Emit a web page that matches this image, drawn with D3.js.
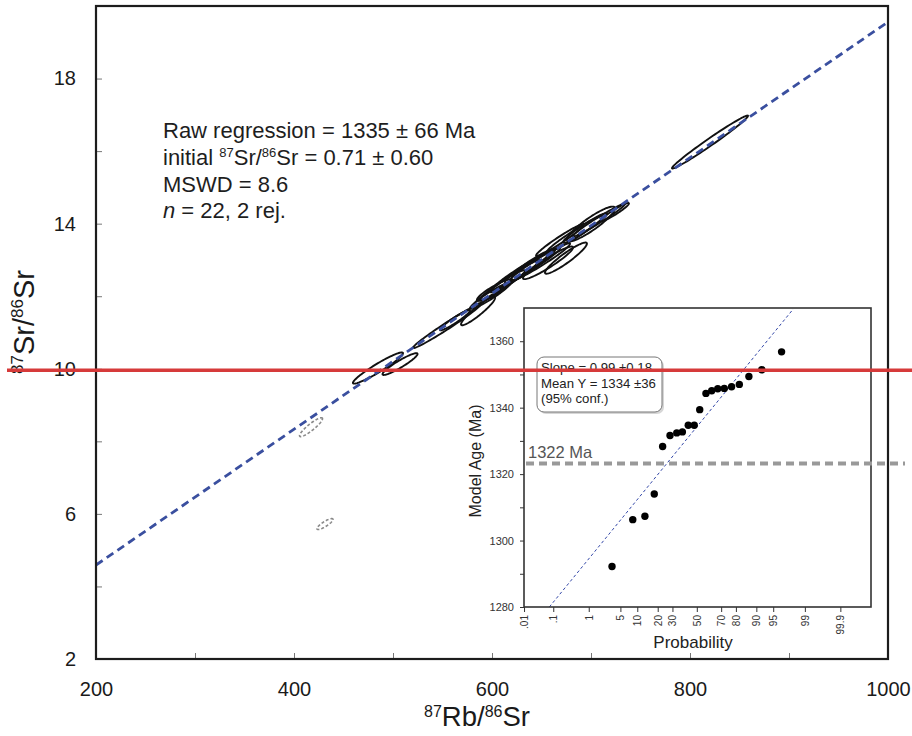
<!DOCTYPE html>
<html><head><meta charset="utf-8">
<script src="https://cdn.jsdelivr.net/npm/d3@7"></script>
<style>
body{margin:0;background:#fff}
svg{display:block}
text{font-family:"Liberation Sans",Arial,Helvetica,sans-serif}
</style>
</head><body>
<svg id="c" width="912" height="736"></svg>
<script>
// ---------- data ----------
const xTicks = [200,300,400,500,600,700,800,900,1000];
const xTickLabels = ["200","","400","","600","","800","","1000"];
const yTicks = [2,4,6,8,10,12,14,16,18];
const yTickLabels = ["2","","6","","10","","14","","18"];

// accepted analyses (87Rb/86Sr, 87Sr/86Sr, errors, error correlation)
const ellX   = [484.8,507.1,554.5,585.9,562.6,598.0,603.0,608.1,618.2,628.3,633.3,638.4,648.5,656.6,674.7,668.7,683.8,693.9,700.0,708.1,724.2,820.2];
const ellY   = [10.02,10.13,11.18,11.59,11.34,12.01,12.17,12.25,12.45,12.67,12.72,12.83,12.94,12.92,13.05,13.55,13.71,13.88,13.99,14.10,14.32,16.25];
const ellSX  = [25.3,17.7,34.3,17.2,15.2,20.2,18.2,25.3,30.3,28.3,35.4,25.3,30.3,25.3,21.2,24.2,28.3,22.2,24.2,26.3,14.1,38.4];
const ellSY  = [0.43,0.30,0.61,0.39,0.28,0.36,0.30,0.47,0.55,0.50,0.61,0.47,0.52,0.45,0.43,0.44,0.50,0.41,0.48,0.45,0.25,0.73];
const ellRho = [0.95,0.93,0.985,0.93,0.95,0.95,0.90,0.97,0.98,0.97,0.98,0.95,0.97,0.94,0.93,0.97,0.97,0.96,0.90,0.98,0.95,0.987];
// rejected analyses
const rejX   = [417.2,431.3];
const rejY   = [8.39,5.72];
const rejSX  = [11.6,8.1];
const rejSY  = [0.26,0.15];
const rejRho = [0.90,0.85];
// regression line end points
const regX = [200,1000];
const regY = [4.59,19.56];

const statLines = ["Raw regression = 1335 \u00b1 66 Ma","= 0.71 \u00b1 0.60","MSWD = 8.6"," = 22, 2 rej."];

// inset: probability plot of model ages
const probTicks  = [0.01,0.1,1,5,10,20,30,50,70,80,90,95,99,99.9];
const probLabels = [".01",".1","1","5","10","20","30","50","70","80","90","95","99","99.9"];
const ageTicks   = [1280,1290,1300,1310,1320,1330,1340,1350,1360];
const modelProb = [3.4,8.4,13.2,18.0,23.1,28.2,33.3,37.8,42.7,47.8,52.5,57.8,62.6,67.4,72.3,77.3,82.0,86.9,91.9,96.6];
const modelAge  = [1292.2,1306.3,1307.3,1314.0,1328.3,1331.6,1332.4,1332.7,1334.7,1334.7,1339.4,1344.3,1345.1,1345.7,1345.8,1346.3,1347.0,1349.4,1351.4,1356.8];
const fitProb = [0.075,98.11];
const fitAge  = [1280.0,1369.7];
const refAge = 1323.2;
const refLabel = "1322 Ma";
const boxLines = ["Slope = 0.99 \u00b10.18","Mean Y = 1334 \u00b136","(95% conf.)"];

// ---------- helpers ----------
function probit(p){
  const a=[-3.969683028665376e+01,2.209460984245205e+02,-2.759285104469687e+02,1.383577518672690e+02,-3.066479806614716e+01,2.506628277459239e+00];
  const b=[-5.447609879822406e+01,1.615858368580409e+02,-1.556989798598866e+02,6.680131188771972e+01,-1.328068155288572e+01];
  const c=[-7.784894002430293e-03,-3.223964580411365e-01,-2.400758277161838e+00,-2.549671200402369e+00,4.374664141464968e+00,2.938163982698783e+00];
  const d=[7.784695709041462e-03,3.224671290700398e-01,2.445134137142996e+00,3.754408661907416e+00];
  const pl=0.02425, ph=1-pl; let q,r;
  if(p<pl){q=Math.sqrt(-2*Math.log(p));return (((((c[0]*q+c[1])*q+c[2])*q+c[3])*q+c[4])*q+c[5])/((((d[0]*q+d[1])*q+d[2])*q+d[3])*q+1);}
  if(p<=ph){q=p-0.5;r=q*q;return (((((a[0]*r+a[1])*r+a[2])*r+a[3])*r+a[4])*r+a[5])*q/(((((b[0]*r+b[1])*r+b[2])*r+b[3])*r+b[4])*r+1);}
  q=Math.sqrt(-2*Math.log(1-p));return -(((((c[0]*q+c[1])*q+c[2])*q+c[3])*q+c[4])*q+c[5])/((((d[0]*q+d[1])*q+d[2])*q+d[3])*q+1);
}
function ellipsePts(cx,cy,sx,sy,rho){
  const pts=[]; const k=Math.sqrt(1-rho*rho);
  for(let i=0;i<96;i++){const t=i/96*2*Math.PI;
    pts.push([cx+sx*Math.cos(t), cy+sy*(rho*Math.cos(t)+k*Math.sin(t))]);}
  return pts;
}

// ---------- main plot ----------
const svg = d3.select("#c");
svg.append("rect").attr("width",912).attr("height",736).attr("fill","#fff");

const x = d3.scaleLinear().domain([200,1000]).range([96,888]);
const y = d3.scaleLinear().domain([2,20]).range([659,6]);

svg.append("clipPath").attr("id","mainclip").append("rect")
  .attr("x",96).attr("y",6).attr("width",792).attr("height",653);

const gx = svg.append("g").attr("transform","translate(0,659)")
  .call(d3.axisBottom(x).tickValues(xTicks).tickSize(-6).tickPadding(23).tickFormat((d,i)=>xTickLabels[i]));
const gy = svg.append("g").attr("transform","translate(96,0)")
  .call(d3.axisLeft(y).tickValues(yTicks).tickSize(-6).tickPadding(20).tickFormat((d,i)=>yTickLabels[i]));
[gx,gy].forEach(g=>{
  g.select(".domain").remove();
  g.selectAll(".tick line").attr("stroke","#777").attr("stroke-width",1);
  g.selectAll(".tick text").attr("font-size",20).attr("fill","#1a1a1a")
   .attr("font-family","'Liberation Sans',Arial,sans-serif");
});

const plot = svg.append("g").attr("clip-path","url(#mainclip)");
const ell = d3.line().x(d=>x(d[0])).y(d=>y(d[1])).curve(d3.curveLinearClosed);

plot.selectAll("path.rej").data(rejX.map((v,i)=>ellipsePts(v,rejY[i],rejSX[i],rejSY[i],rejRho[i])))
  .join("path").attr("class","rej").attr("d",ell)
  .attr("fill","none").attr("stroke","#8a8a8a").attr("stroke-width",1.6).attr("stroke-dasharray","3,2");

plot.selectAll("path.acc").data(ellX.map((v,i)=>ellipsePts(v,ellY[i],ellSX[i],ellSY[i],ellRho[i])))
  .join("path").attr("class","acc").attr("d",ell)
  .attr("fill","none").attr("stroke","#111").attr("stroke-width",1.9);

plot.append("path").datum(regX.map((v,i)=>[v,regY[i]]))
  .attr("d",d3.line().x(d=>x(d[0])).y(d=>y(d[1])))
  .attr("fill","none").attr("stroke","#3a4f9f").attr("stroke-width",2.8).attr("stroke-dasharray","8,5");

svg.append("rect").attr("x",96).attr("y",6).attr("width",792).attr("height",653)
  .attr("fill","none").attr("stroke","#1c1c1c").attr("stroke-width",2.2);

// stats text
const st = svg.append("g").attr("font-size",22).attr("fill","#1e1e1e");
st.append("text").attr("x",163).attr("y",138).text(statLines[0]);
const l2 = st.append("text").attr("x",163).attr("y",165);
l2.append("tspan").text("initial ");
l2.append("tspan").attr("font-size",13).attr("dy",-8).text("87");
l2.append("tspan").attr("dy",8).text("Sr/");
l2.append("tspan").attr("font-size",13).attr("dy",-8).text("86");
l2.append("tspan").attr("dy",8).text("Sr "+statLines[1]);
st.append("text").attr("x",163).attr("y",191.5).text(statLines[2]);
const l4 = st.append("text").attr("x",163).attr("y",218);
l4.append("tspan").attr("font-style","italic").text("n");
l4.append("tspan").text(statLines[3]);

// axis titles
const xt = svg.append("text").attr("x",477).attr("y",726).attr("text-anchor","middle").attr("font-size",27.5).attr("fill","#1a1a1a");
xt.append("tspan").attr("font-size",16).attr("dy",-9.5).text("87");
xt.append("tspan").attr("dy",9.5).text("Rb/");
xt.append("tspan").attr("font-size",16).attr("dy",-9.5).text("86");
xt.append("tspan").attr("dy",9.5).text("Sr");

const yt = svg.append("text").attr("transform","translate(34,322) rotate(-90)").attr("text-anchor","middle").attr("font-size",29).attr("fill","#1a1a1a");
yt.append("tspan").attr("font-size",17).attr("dy",-11).text("87");
yt.append("tspan").attr("dy",11).text("Sr/");
yt.append("tspan").attr("font-size",17).attr("dy",-11).text("86");
yt.append("tspan").attr("dy",11).text("Sr");

// ---------- inset ----------
const ix = d3.scaleLinear().domain([-3.72,3.75]).range([524,871]);
const iy = d3.scaleLinear().domain([1280,1370]).range([607,308]);
const ins = svg.append("g");
ins.append("rect").attr("x",524).attr("y",308).attr("width",347).attr("height",299).attr("fill","#fff");
svg.append("clipPath").attr("id","insclip").append("rect").attr("x",524).attr("y",308).attr("width",347).attr("height",299);

const iax = ins.append("g").attr("transform","translate(0,607)")
  .call(d3.axisBottom(ix).tickValues(probTicks.map(p=>probit(p/100))).tickSize(5).tickFormat((d,i)=>probLabels[i]));
iax.select(".domain").remove();
iax.selectAll(".tick line").attr("stroke","#333");
iax.selectAll(".tick text").attr("font-size",10).attr("fill","#333")
  .attr("transform","rotate(-90)").attr("text-anchor","end").attr("x",-8).attr("y",0).attr("dy","0.35em");

const iay = ins.append("g").attr("transform","translate(524,0)")
  .call(d3.axisLeft(iy).tickValues(ageTicks).tickSize(4).tickPadding(6).tickFormat(d=>d%20===0?d:""));
iay.select(".domain").remove();
iay.selectAll(".tick line").attr("stroke","#333");
iay.selectAll(".tick text").attr("font-size",11).attr("fill","#333");

// reference age line
svg.append("line").attr("x1",526).attr("x2",905).attr("y1",iy(refAge)).attr("y2",iy(refAge))
  .attr("stroke","#999").attr("stroke-width",4).attr("stroke-dasharray","8,5");
ins.append("text").attr("x",528).attr("y",iy(refAge)-5).attr("font-size",16.5).attr("fill","#555").text(refLabel);

// fit line
ins.append("path").attr("clip-path","url(#insclip)")
  .datum(fitProb.map((p,i)=>[probit(p/100),fitAge[i]]))
  .attr("d",d3.line().x(d=>ix(d[0])).y(d=>iy(d[1])))
  .attr("fill","none").attr("stroke","#3347a8").attr("stroke-width",1).attr("stroke-dasharray","3,2.5");

// points
ins.selectAll("circle").data(modelProb.map((p,i)=>[probit(p/100),modelAge[i]])).join("circle")
  .attr("cx",d=>ix(d[0])).attr("cy",d=>iy(d[1])).attr("r",3.7).attr("fill","#000");

// text box
ins.append("rect").attr("x",539).attr("y",359).attr("width",125).attr("height",55).attr("rx",7)
  .attr("fill","#bbb").attr("opacity",0.6);
ins.append("rect").attr("x",537).attr("y",357).attr("width",125).attr("height",55).attr("rx",7)
  .attr("fill","#fff").attr("stroke","#777").attr("stroke-width",1);
ins.selectAll("text.box").data(boxLines).join("text").attr("class","box")
  .attr("x",541).attr("y",(d,i)=>372+i*15.5).attr("font-size",13.2).attr("fill","#222").text(d=>d);

ins.append("rect").attr("x",524).attr("y",308).attr("width",347).attr("height",299)
  .attr("fill","none").attr("stroke","#333").attr("stroke-width",1.6);

ins.append("text").attr("x",693).attr("y",648).attr("text-anchor","middle").attr("font-size",17).attr("fill","#222").text("Probability");
ins.append("text").attr("transform","translate(481,461) rotate(-90)").attr("text-anchor","middle").attr("font-size",16).attr("fill","#222").text("Model Age (Ma)");

// red marker line
svg.append("line").attr("x1",7).attr("x2",912).attr("y1",370.3).attr("y2",370.3)
  .attr("stroke","#d63a3a").attr("stroke-width",3.5);
</script>
</body></html>
